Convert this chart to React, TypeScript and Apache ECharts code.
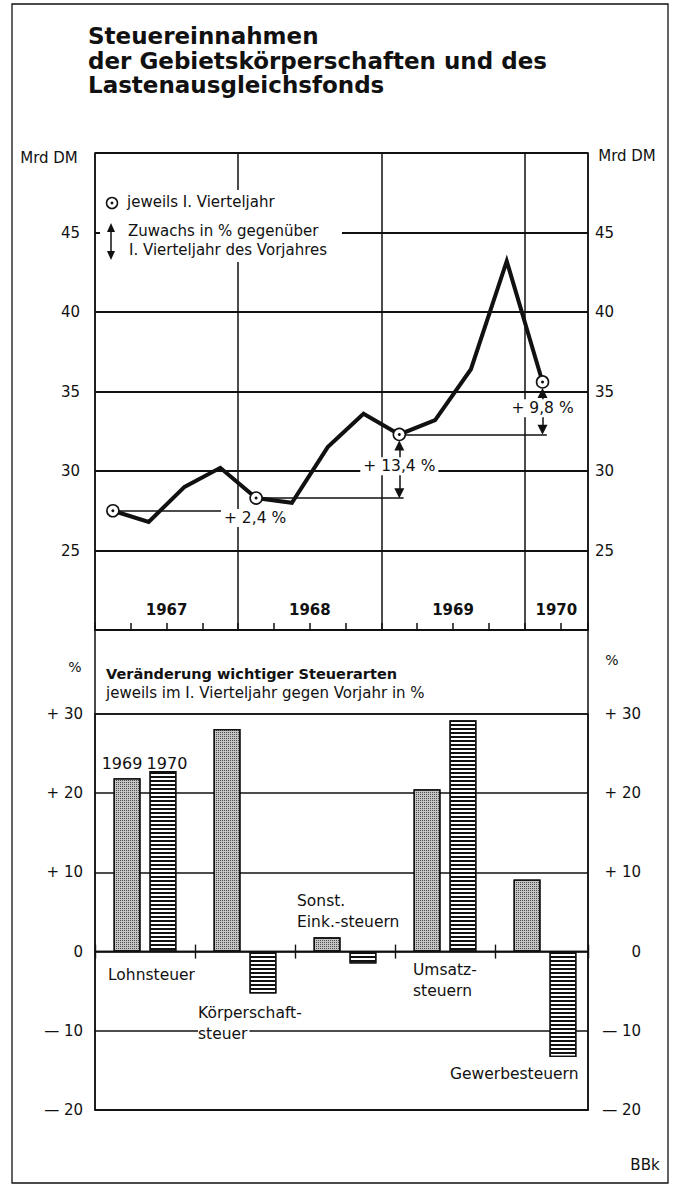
import React, { useEffect, useRef } from 'react';
import * as echarts from 'echarts';

// ---------- data ----------
const titleLines = ['Steuereinnahmen', 'der Gebietskörperschaften und des', 'Lastenausgleichsfonds'];
const years = ['1967', '1968', '1969', '1970'];
// quarterly tax revenue, Mrd DM (Q1 1967 ... Q1 1970)
const quarterlyRevenue = [27.5, 26.8, 29.0, 30.2, 28.3, 28.0, 31.5, 33.6, 32.3, 33.2, 36.4, 43.2, 35.6];
const growthLabels = ['+ 2,4 %', '+ 13,4 %', '+ 9,8 %'];
const legendTexts = ['jeweils I. Vierteljahr', 'Zuwachs in % gegenüber', 'I. Vierteljahr des Vorjahres'];
const unitLabel = 'Mrd DM';

const subtitleLines = ['Veränderung wichtiger Steuerarten', 'jeweils im I. Vierteljahr gegen Vorjahr in %'];
const taxCategories = ['Lohnsteuer', 'Körperschaft-\nsteuer', 'Sonst.\nEink.-steuern', 'Umsatz-\nsteuern', 'Gewerbesteuern'];
const barSeriesNames = ['1969', '1970'];
const change1969 = [21.9, 28.1, 1.8, 20.5, 9.1];
const change1970 = [22.8, -5.3, -1.5, 29.2, -13.3];
const sourceLabel = 'BBk';

// ---------- layout / style ----------
const FONT = 'DejaVu Sans';
const INK = '#111';
const TOP = { left: 95, top: 153, width: 493, height: 477 };
const BOT = { left: 95, top: 714, width: 493, height: 396 };
const TOP_XMAX = 13.77; // quarters visible
const BOT_XMAX = 4.93; // categories visible
const YEAR_LABEL_Y = 21.25;
const refExtend = [0, 0.12, 0.12];
// label anchors for category names [x in category units, y in %]
const categoryAnchor = [
  [0.13, -2.95],
  [1.03, -9.1],
  [2.02, 5.05],
  [3.18, -3.7],
  [3.55, -15.45],
];
const barLabelOffsetX = [-5, 4];
const barLabelDistance = [7, 0];

function buildOption() {
  const linePts = quarterlyRevenue.map((v, i) => [i + 0.5, v]);
  const q1Pts = linePts.filter((_, i) => i % 4 === 0);

  const refLines: any[] = [];
  const arrows: any[] = [];
  const growthPts: any[] = [];
  growthLabels.forEach((lab, k) => {
    const q0 = k * 4;
    const q1 = (k + 1) * 4;
    const vPrev = quarterlyRevenue[q0];
    const vCur = quarterlyRevenue[q1];
    const xPrev = q0 + 0.5;
    const xCur = q1 + 0.5;
    refLines.push({ coords: [[xPrev, vPrev], [xCur + refExtend[k], vPrev]] });
    if (k > 0) {
      arrows.push({ coords: [[xCur, vPrev + 0.3], [xCur, vCur - 0.7]] });
      growthPts.push({ value: [xCur, (vPrev + vCur) / 2], name: lab });
    } else {
      growthPts.push({ value: [xCur - 0.03, vPrev - 0.46], name: lab });
    }
  });

  const yearPts = years.map((y, i) => ({
    value: [i < years.length - 1 ? i * 4 + 2 : (i * 4 + TOP_XMAX) / 2, YEAR_LABEL_Y],
    name: y,
  }));

  const catPts = taxCategories.map((c, i) => {
    const parts = c.split('\n');
    let fmt = parts.map((p) => `{a|${p}}`).join('\n');
    if (i === 1) fmt = `{a|${parts[0]}}\n{b|${parts[1]}}`;
    return { value: categoryAnchor[i], name: c, label: { formatter: fmt } };
  });

  const pctFmt = (v: number) => (v > 0 ? '+ ' + v : v < 0 ? '— ' + -v : '0');

  const axisLabelStyle = { fontFamily: FONT, fontSize: 15, color: INK };
  const solid = { opacity: 1 };

  const barSeries = (idx: number, values: number[], itemStyle: any) => ({
    name: barSeriesNames[idx], type: 'bar', xAxisIndex: 2, yAxisIndex: 2,
    data: values.map((v, i) => (i === 0
      ? {
        value: [i + 0.5, v],
        label: {
          show: true, position: 'top', distance: barLabelDistance[idx], offset: [barLabelOffsetX[idx], 0],
          formatter: barSeriesNames[idx], fontFamily: FONT, fontSize: 16, color: INK,
        },
      }
      : { value: [i + 0.5, v] })),
    barWidth: 27, barGap: '33%', z: 3,
    itemStyle,
  });

  return {
    animation: false,
    backgroundColor: '#fff',
    textStyle: { fontFamily: FONT, color: INK },
    title: {
      text: titleLines.join('\n'),
      left: 88,
      top: 24,
      padding: 0,
      textStyle: { fontFamily: FONT, fontSize: 23, fontWeight: 'bold', lineHeight: 24.5, color: INK },
    },
    grid: [
      { ...TOP, show: true, borderColor: INK, borderWidth: 1.5, containLabel: false },
      { ...BOT, show: true, borderColor: INK, borderWidth: 1.5, containLabel: false },
    ],
    xAxis: [
      {
        gridIndex: 0, type: 'value', min: 0, max: TOP_XMAX, interval: 4, position: 'bottom',
        axisLine: { show: true, lineStyle: { color: INK, width: 1.5 } },
        axisTick: { show: false }, axisLabel: { show: false },
        splitLine: { show: true, lineStyle: { color: INK, width: 1.5 } },
      },
      {
        gridIndex: 0, type: 'value', min: 0, max: TOP_XMAX, interval: 1, position: 'bottom',
        axisLine: { show: false },
        axisTick: { show: true, inside: true, length: 7, lineStyle: { color: INK, width: 1.5 } },
        axisLabel: { show: false }, splitLine: { show: false },
      },
      {
        gridIndex: 1, type: 'value', min: 0, max: BOT_XMAX, interval: 1, position: 'bottom',
        axisLine: { show: true, onZero: true, onZeroAxisIndex: 2, lineStyle: { color: INK, width: 1.4 } },
        axisTick: { show: true, inside: true, length: 7, lineStyle: { color: INK, width: 1.4 } },
        axisLabel: { show: false }, splitLine: { show: false },
      },
      {
        gridIndex: 1, type: 'value', min: 0, max: BOT_XMAX, interval: 1, position: 'bottom',
        axisLine: { show: true, onZero: true, onZeroAxisIndex: 2, lineStyle: { color: INK, width: 1.4 } },
        axisTick: { show: true, inside: false, length: 7, lineStyle: { color: INK, width: 1.4 } },
        axisLabel: { show: false }, splitLine: { show: false },
      },
    ],
    yAxis: [
      {
        gridIndex: 0, type: 'value', min: 20, max: 50, interval: 5, position: 'left',
        axisLine: { show: false }, axisTick: { show: false },
        axisLabel: { ...axisLabelStyle, margin: 15, showMinLabel: false, showMaxLabel: false },
        splitLine: { show: true, lineStyle: { color: INK, width: 1.8 } },
      },
      {
        gridIndex: 0, type: 'value', min: 20, max: 50, interval: 5, position: 'right',
        axisLine: { show: false }, axisTick: { show: false },
        axisLabel: { ...axisLabelStyle, margin: 7, showMinLabel: false, showMaxLabel: false },
        splitLine: { show: false },
      },
      {
        gridIndex: 1, type: 'value', min: -20, max: 30, interval: 10, position: 'left',
        axisLine: { show: false }, axisTick: { show: false },
        axisLabel: { ...axisLabelStyle, margin: 12, formatter: pctFmt },
        splitLine: { show: true, lineStyle: { color: INK, width: 1.7 } },
      },
      {
        gridIndex: 1, type: 'value', min: -20, max: 30, interval: 10, position: 'right',
        axisLine: { show: false }, axisTick: { show: false },
        axisLabel: { ...axisLabelStyle, margin: 53, align: 'right', formatter: pctFmt },
        splitLine: { show: false },
      },
    ],
    series: [
      {
        name: 'Steuereinnahmen', type: 'line', xAxisIndex: 0, yAxisIndex: 0,
        data: linePts, showSymbol: false, symbol: 'none', z: 5,
        lineStyle: { color: INK, width: 4, join: 'miter' },
      },
      {
        name: 'Bezug', type: 'lines', coordinateSystem: 'cartesian2d', xAxisIndex: 0, yAxisIndex: 0,
        data: refLines, z: 4, symbol: ['none', 'none'],
        lineStyle: { color: INK, width: 1.5, opacity: 1 },
      },
      {
        name: 'Pfeile', type: 'lines', coordinateSystem: 'cartesian2d', xAxisIndex: 0, yAxisIndex: 0,
        data: arrows, z: 4, symbol: ['triangle', 'triangle'], symbolSize: 10,
        lineStyle: { color: INK, width: 1.5, opacity: 1 },
        itemStyle: { color: INK },
      },
      {
        name: 'I. Vierteljahr', type: 'scatter', xAxisIndex: 0, yAxisIndex: 0,
        data: q1Pts, symbol: 'circle', symbolSize: 12, z: 6,
        itemStyle: { color: '#fff', borderColor: INK, borderWidth: 1.6, opacity: 1 },
      },
      {
        name: 'I. Vierteljahr Punkt', type: 'scatter', xAxisIndex: 0, yAxisIndex: 0,
        data: q1Pts, symbol: 'circle', symbolSize: 3, z: 7,
        itemStyle: { color: INK, opacity: 1 },
      },
      {
        name: 'Zuwachs', type: 'scatter', xAxisIndex: 0, yAxisIndex: 0,
        data: growthPts, symbolSize: 0, z: 8, itemStyle: solid,
        label: {
          show: true, position: 'inside', formatter: '{b}', fontFamily: FONT, fontSize: 15.5, color: INK,
          backgroundColor: '#fff', padding: [1, 3], opacity: 1,
        },
      },
      {
        name: 'Jahre', type: 'scatter', xAxisIndex: 0, yAxisIndex: 0,
        data: yearPts, symbolSize: 0, z: 8, itemStyle: solid,
        label: { show: true, position: 'inside', formatter: '{b}', fontFamily: FONT, fontSize: 15, fontWeight: 'bold', color: INK, opacity: 1 },
      },
      barSeries(0, change1969, {
        color: '#c4c4c4', borderColor: INK, borderWidth: 1.3,
        decal: { symbol: 'rect', symbolSize: 1, dashArrayX: [1, 1], dashArrayY: [1, 1], color: 'rgba(0,0,0,0.6)', rotation: 0 },
      }),
      barSeries(1, change1970, {
        color: '#fff', borderColor: INK, borderWidth: 1.3,
        decal: { symbol: 'rect', symbolSize: 1, dashArrayX: [1, 0], dashArrayY: [2, 1.5], color: INK, rotation: 0 },
      }),
      {
        name: 'Steuerarten', type: 'scatter', xAxisIndex: 2, yAxisIndex: 2,
        data: catPts, symbolSize: 0, z: 9, itemStyle: solid,
        label: {
          show: true, position: 'right', distance: 0, align: 'left', opacity: 1,
          rich: {
            a: { fontFamily: FONT, fontSize: 15.5, color: INK, lineHeight: 21 },
            b: { fontFamily: FONT, fontSize: 15.5, color: INK, lineHeight: 21, backgroundColor: '#fff', padding: [0, 2, 0, 0] },
          },
        },
      },
    ],
    graphic: [
      // outer frame
      { type: 'rect', z: 1, shape: { x: 12, y: 4, width: 656, height: 1179 }, style: { fill: 'none', stroke: INK, lineWidth: 1.3 } },
      // bottom panel frame
      { type: 'rect', z: 50, shape: { x: BOT.left, y: TOP.top + TOP.height, width: BOT.width, height: BOT.top + BOT.height - TOP.top - TOP.height }, style: { fill: 'none', stroke: INK, lineWidth: 1.5 } },
      // unit labels
      { type: 'text', z: 50, x: 49, y: 158, style: { text: unitLabel, fontFamily: FONT, fontSize: 15, fill: INK, align: 'center', verticalAlign: 'middle' } },
      { type: 'text', z: 50, x: 627, y: 156, style: { text: unitLabel, fontFamily: FONT, fontSize: 15, fill: INK, align: 'center', verticalAlign: 'middle' } },
      { type: 'text', z: 50, x: 75, y: 667, style: { text: '%', fontFamily: FONT, fontSize: 14, fill: INK, align: 'center', verticalAlign: 'middle' } },
      { type: 'text', z: 50, x: 612, y: 660, style: { text: '%', fontFamily: FONT, fontSize: 14, fill: INK, align: 'center', verticalAlign: 'middle' } },
      // legend box
      { type: 'rect', z: 100, shape: { x: 100, y: 190, width: 242, height: 72 }, style: { fill: '#fff' } },
      { type: 'circle', z: 101, shape: { cx: 112, cy: 203, r: 5.5 }, style: { fill: '#fff', stroke: INK, lineWidth: 1.5 } },
      { type: 'circle', z: 102, shape: { cx: 112, cy: 203, r: 1.4 }, style: { fill: INK } },
      { type: 'text', z: 101, x: 127, y: 202, style: { text: legendTexts[0], fontFamily: FONT, fontSize: 15, fill: INK, align: 'left', verticalAlign: 'middle' } },
      { type: 'line', z: 101, shape: { x1: 111, y1: 230, x2: 111, y2: 253 }, style: { stroke: INK, lineWidth: 1.5 } },
      { type: 'polygon', z: 101, shape: { points: [[111, 223], [107, 232], [115, 232]] }, style: { fill: INK } },
      { type: 'polygon', z: 101, shape: { points: [[111, 260], [107, 251], [115, 251]] }, style: { fill: INK } },
      { type: 'text', z: 101, x: 128, y: 231, style: { text: legendTexts[1], fontFamily: FONT, fontSize: 15, fill: INK, align: 'left', verticalAlign: 'middle' } },
      { type: 'text', z: 101, x: 129, y: 250, style: { text: legendTexts[2], fontFamily: FONT, fontSize: 15, fill: INK, align: 'left', verticalAlign: 'middle' } },
      // bottom subtitle
      { type: 'text', z: 60, x: 106, y: 674, style: { text: subtitleLines[0], fontFamily: FONT, fontSize: 14.5, fontWeight: 'bold', fill: INK, align: 'left', verticalAlign: 'middle' } },
      { type: 'text', z: 60, x: 106, y: 693, style: { text: subtitleLines[1], fontFamily: FONT, fontSize: 15, fill: INK, align: 'left', verticalAlign: 'middle' } },
      // source
      { type: 'text', z: 60, x: 645, y: 1165, style: { text: sourceLabel, fontFamily: FONT, fontSize: 15, fill: INK, align: 'center', verticalAlign: 'middle' } },
    ],
  };
}

export default function App() {
  const ref = useRef<HTMLDivElement>(null);
  useEffect(() => {
    if (!ref.current) return;
    const chart = echarts.init(ref.current, null, { renderer: 'svg' });
    chart.setOption(buildOption() as any);
    return () => chart.dispose();
  }, []);
  return (
    <div
      ref={ref}
      style={{ position: 'absolute', left: 0, top: 0, width: 673, height: 1187, background: '#fff' }}
    />
  );
}
